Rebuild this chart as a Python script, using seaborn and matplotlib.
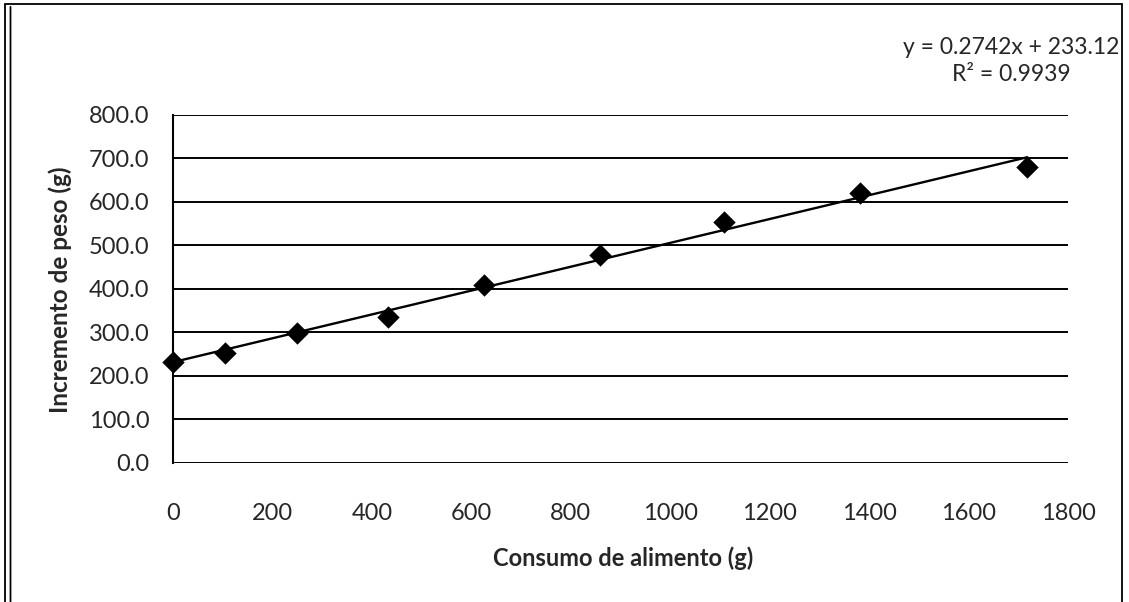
import numpy as np
import matplotlib.pyplot as plt
import seaborn as sns
import pandas as pd
from matplotlib.patches import Rectangle

# valores
consumo = [0, 105, 250, 432, 626, 859, 1108, 1382, 1718]
incremento = [233, 254, 299, 335, 409, 478, 555, 620, 680]
y_ticks = [0, 100, 200, 300, 400, 500, 600, 700, 800]
x_ticks = [0, 200, 400, 600, 800, 1000, 1200, 1400, 1600, 1800]
ecuacion = "y = 0.2742x + 233.12\nR² = 0.9939"

df = pd.DataFrame({"consumo": consumo, "incremento": incremento})

sns.set_style("white")
plt.rcParams['font.family'] = ['Lato', 'DejaVu Sans']

fig = plt.figure(figsize=(11.29, 6.02), dpi=100)
ax = fig.add_axes([0.1532, 0.2309, 0.9460 - 0.1532, 0.8090 - 0.2309])

for v in y_ticks:
    ax.axhline(v, color="black", lw=1.4, zorder=1)

sns.regplot(x="consumo", y="incremento", data=df, ax=ax, ci=None, marker="D",
            color="black",
            scatter_kws={"s": 130, "zorder": 3, "alpha": 1, "edgecolor": "black",
                         "linewidths": 0, "clip_on": False},
            line_kws={"lw": 1.7, "zorder": 2})

ax.set_xlim(0, 1800)
ax.set_ylim(0, 800)
ax.set_xticks(x_ticks)
ax.set_yticks(y_ticks)
ax.set_yticklabels([f"{v:.1f}" for v in y_ticks])
ax.tick_params(axis="both", length=0, labelsize=17)
ax.tick_params(axis="x", pad=29)
ax.tick_params(axis="y", pad=17)

for s in ["top", "right", "bottom"]:
    ax.spines[s].set_visible(False)
ax.spines["left"].set_color("black")
ax.spines["left"].set_linewidth(1.5)

ax.set_xlabel("")
ax.set_ylabel("")
fig.text(0.552, 1 - 558 / 602, "Consumo de alimento (g)", ha="center", va="center",
         fontsize=17, fontweight="bold")
fig.text(60 / 1129, 1 - 290 / 602, "Incremento de peso (g)", ha="center", va="center",
         rotation=90, fontsize=17.5, fontweight="bold")

fig.text(1011 / 1129, 1 - 61 / 602, ecuacion, ha="center", va="center",
         multialignment="center", fontsize=16.5, linespacing=1.35)

# marco exterior
fig.patches.append(Rectangle((5 / 1129, -0.01), (1122 - 5) / 1129, (600 - 2) / 602 + 0.01,
                             transform=fig.transFigure, fill=False, ec="black", lw=1.3))
fig.patches.append(Rectangle((10 / 1129, -0.01), 0, 1.0,
                             transform=fig.transFigure, fill=False, ec="black", lw=1.0))

plt.savefig("out.png", dpi=100)
